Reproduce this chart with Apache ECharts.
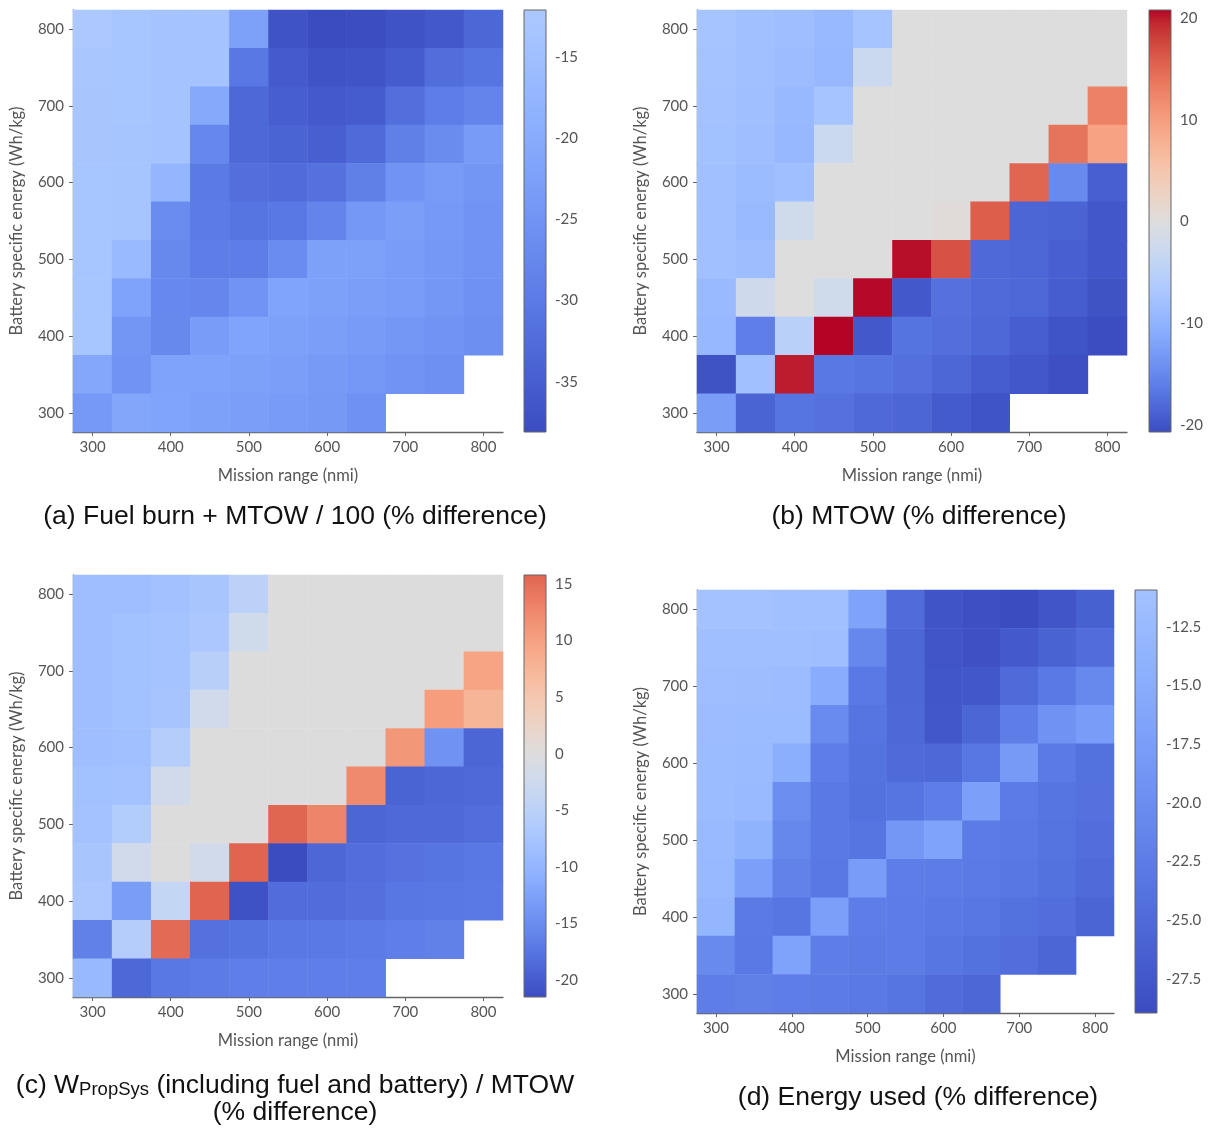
<!DOCTYPE html>
<html><head><meta charset="utf-8">
<script src="https://cdn.jsdelivr.net/npm/echarts@6/dist/echarts.min.js"></script>
<style>html,body{margin:0;padding:0;background:#fff}#c{width:1211px;height:1128px}</style>
</head><body><div id="c"></div>
<script>
// ---------------- DATA ----------------
const rangeCats = ['300','350','400','450','500','550','600','650','700','750','800'];   // Mission range (nmi)
const energyCats = ['300','350','400','450','500','550','600','650','700','750','800'];  // Battery specific energy (Wh/kg)

// Each row: one battery specific energy level, listed from 800 (top) down to 300 (bottom); columns = mission range 300..800
const fuelBurnRows = [
  [-12.2,-13.5,-13.8,-13.8,-22.5,-37.0,-38.1,-38.0,-37.0,-36.0,-33.5],
  [-13.0,-13.5,-13.8,-14.0,-30.5,-35.5,-37.0,-36.8,-35.3,-32.3,-31.0],
  [-13.2,-13.5,-13.8,-20.5,-33.3,-35.0,-35.8,-35.3,-32.0,-29.5,-28.2],
  [-13.2,-13.6,-14.0,-27.5,-33.3,-34.0,-34.8,-33.0,-29.0,-26.7,-23.5],
  [-13.3,-13.6,-17.5,-30.0,-32.0,-32.6,-31.6,-29.0,-25.3,-23.6,-24.6],
  [-13.3,-13.6,-26.6,-29.8,-31.0,-30.4,-28.2,-24.2,-23.0,-24.0,-25.0],
  [-13.3,-16.5,-27.3,-29.4,-29.4,-26.6,-22.5,-22.5,-23.3,-24.2,-25.3],
  [-13.4,-22.0,-27.4,-27.8,-25.0,-21.8,-22.4,-22.9,-23.4,-24.4,-25.5],
  [-13.5,-24.6,-27.3,-23.3,-21.8,-22.4,-22.9,-23.6,-24.4,-25.0,-26.0],
  [-21.0,-25.0,-22.0,-22.0,-22.4,-22.9,-23.7,-24.3,-25.3,-25.8,null],
  [-24.0,-21.3,-21.8,-22.4,-22.9,-23.6,-24.1,-25.5,null,null,null]
];
const mtowRows = [
  [-7.4,-8.0,-8.4,-9.1,-7.4,0,0,0,0,0,0],
  [-7.6,-8.1,-8.6,-9.2,-2.9,0,0,0,0,0,0],
  [-7.8,-8.3,-9.1,-7.4,0,0,0,0,0,0,12.8],
  [-7.9,-8.4,-9.2,-2.7,0,0,0,0,0,14.0,9.5],
  [-8.0,-8.7,-8.2,0,0,0,0,0,15.1,-14.8,-19.0],
  [-8.1,-8.9,-2.2,0,0,0,0.4,15.8,-18.4,-18.5,-19.7],
  [-8.1,-8.5,0,0,0,20.4,16.7,-18.0,-18.3,-19.0,-19.7],
  [-8.9,-2.3,0,-2.2,20.6,-19.6,-17.3,-17.9,-18.2,-19.2,-20.2],
  [-9.2,-16.0,-5.0,20.8,-19.6,-17.0,-17.5,-18.2,-19.1,-20.1,-20.7],
  [-20.2,-8.0,19.9,-16.6,-16.9,-17.4,-18.3,-19.2,-19.8,-20.5,null],
  [-12.6,-18.5,-16.9,-17.3,-18.0,-18.4,-19.4,-20.1,null,null,null]
];
const propSysRows = [
  [-8.6,-8.6,-8.1,-7.4,-5.0,0,0,0,0,0,0],
  [-8.6,-8.2,-7.9,-7.0,-2.2,0,0,0,0,0,0],
  [-8.6,-8.2,-7.8,-5.4,0,0,0,0,0,0,9.6],
  [-8.6,-8.2,-7.6,-2.0,0,0,0,0,0,10.4,7.5],
  [-8.6,-8.3,-6.0,0,0,0,0,0,11.0,-14.4,-19.0],
  [-8.2,-8.0,-2.0,0,0,0,0,12.4,-19.2,-18.9,-18.6],
  [-8.0,-6.2,0,0,0,15.6,12.9,-19.0,-18.7,-18.6,-18.2],
  [-7.5,-2.1,0,-2.1,15.8,-21.5,-18.9,-18.2,-17.8,-17.5,-17.2],
  [-7.0,-13.0,-3.9,15.8,-21.0,-18.3,-18.3,-18.0,-17.3,-17.1,-17.0],
  [-16.3,-6.0,15.2,-17.9,-17.6,-17.1,-17.0,-16.8,-16.5,-16.3,null],
  [-9.3,-18.8,-17.2,-16.8,-16.5,-16.5,-16.5,-16.5,null,null,null]
];
const energyRows = [
  [-10.95,-11.0,-11.2,-11.3,-16.6,-24.8,-27.9,-28.5,-28.95,-27.8,-26.3],
  [-11.5,-11.5,-11.6,-11.7,-21.0,-25.5,-27.7,-28.4,-27.2,-26.0,-24.6],
  [-11.7,-11.8,-12.0,-15.2,-23.0,-25.5,-27.6,-27.4,-25.0,-23.0,-20.7],
  [-12.0,-12.1,-12.2,-20.4,-23.6,-25.4,-27.4,-25.6,-22.4,-19.2,-17.9],
  [-12.1,-12.3,-14.9,-22.3,-23.9,-25.1,-25.4,-23.3,-18.2,-22.8,-24.0],
  [-12.2,-12.5,-19.9,-23.0,-24.0,-23.6,-22.3,-17.2,-22.7,-23.6,-24.1],
  [-12.4,-14.0,-21.0,-23.0,-23.6,-18.6,-16.8,-22.7,-23.0,-23.7,-24.5],
  [-12.8,-17.3,-21.7,-23.1,-17.9,-22.4,-22.5,-22.8,-23.3,-24.0,-25.0],
  [-13.4,-22.8,-23.4,-17.3,-22.3,-22.5,-23.0,-23.3,-24.0,-24.4,-25.7],
  [-20.5,-23.0,-16.8,-22.3,-22.6,-22.5,-23.4,-24.0,-24.5,-25.6,null],
  [-22.4,-22.0,-22.3,-22.6,-22.9,-23.6,-24.7,-25.5,null,null,null]
];

// Colour-bar limits [min, max] and the symmetric half-range of the colour norm
const fuelBurnLimits = [-38.1, -12.1];  const fuelBurnHalf = 38.1;
const mtowLimits     = [-20.7, 20.8];   const mtowHalf = 20.8;
const propSysLimits  = [-21.5, 15.8];   const propSysHalf = 21.5;
const energyLimits   = [-28.95, -10.93]; const energyHalf = 28.95;

// Colour-bar tick labels
const fuelBurnTicks = [-35,-30,-25,-20,-15];
const mtowTicks     = [-20,-10,0,10,20];
const propSysTicks  = [-20,-15,-10,-5,0,5,10,15];
const energyTicks   = [-27.5,-25,-22.5,-20,-17.5,-15,-12.5];

const xAxisTitle = 'Mission range (nmi)';
const yAxisTitle = 'Battery specific energy (Wh/kg)';

// ---------------- COLOURMAP (matplotlib coolwarm) ----------------
const COOLWARM = [[59,76,192],[68,90,204],[77,104,215],[87,117,225],[98,130,234],[108,142,241],[119,154,247],[130,165,251],[141,176,254],[152,185,255],[163,194,255],[174,201,253],[184,208,249],[194,213,244],[204,217,238],[213,219,230],[221,221,221],[229,216,209],[236,211,197],[241,204,184],[245,196,172],[247,187,159],[247,177,147],[247,166,134],[244,154,123],[241,141,111],[236,127,99],[229,112,88],[222,96,77],[213,80,66],[203,62,56],[192,40,47],[180,4,38]];
function cw(t){
  t = Math.max(0, Math.min(1, t));
  const f = t * 32; const i = Math.min(31, Math.floor(f)); const u = f - i;
  const a = COOLWARM[i], b = COOLWARM[i+1];
  return 'rgb(' + a.map((v,k)=>Math.round(v + (b[k]-v)*u)).join(',') + ')';
}

// ---------------- LAYOUT ----------------
const FONT = 'Lato';
const TXT = '#555';
const panels = [
  {rows: fuelBurnRows, lim: fuelBurnLimits, half: fuelBurnHalf, ticks: fuelBurnTicks, dec: 0,
   grid: {left:73, top:10, width:430, height:422}, cb: {left:524, top:10, width:22, height:422}},
  {rows: mtowRows, lim: mtowLimits, half: mtowHalf, ticks: mtowTicks, dec: 0,
   grid: {left:697, top:10, width:430, height:422}, cb: {left:1149, top:10, width:22, height:422}},
  {rows: propSysRows, lim: propSysLimits, half: propSysHalf, ticks: propSysTicks, dec: 0,
   grid: {left:73, top:575, width:430, height:422}, cb: {left:524, top:575, width:22, height:422}},
  {rows: energyRows, lim: energyLimits, half: energyHalf, ticks: energyTicks, dec: 1,
   grid: {left:697, top:590, width:417, height:423}, cb: {left:1135, top:590, width:22, height:423}}
];

const grid = [], xAxis = [], yAxis = [], series = [], visualMap = [];
panels.forEach((p, i) => {
  const lo = p.lim[0], hi = p.lim[1], half = p.half;
  const tOf = v => (v + half) / (2 * half);
  grid.push(Object.assign({containLabel:false}, p.grid));
  grid.push(Object.assign({containLabel:false}, p.cb));
  const axLine = {show:true, lineStyle:{color:'#666', width:1.3}};
  xAxis.push({type:'category', gridIndex:2*i, data: rangeCats, boundaryGap:true,
    axisLine: axLine, axisTick:{show:true, alignWithLabel:true, interval:1, length:4, lineStyle:{color:'#666'}},
    axisLabel:{interval:1, color:TXT, fontFamily:FONT, fontSize:15, margin:8},
    splitLine:{show:false},
    name: xAxisTitle, nameLocation:'middle', nameGap:35,
    nameTextStyle:{color:TXT, fontFamily:FONT, fontSize:16.5}});
  yAxis.push({type:'category', gridIndex:2*i, data: energyCats, boundaryGap:true,
    axisLine: axLine, axisTick:{show:true, alignWithLabel:true, interval:1, length:4, lineStyle:{color:'#666'}},
    axisLabel:{interval:1, color:TXT, fontFamily:FONT, fontSize:15, margin:9},
    splitLine:{show:false},
    name: yAxisTitle, nameLocation:'middle', nameGap:48,
    nameTextStyle:{color:TXT, fontFamily:FONT, fontSize:16.5}});
  // colour-bar axes
  xAxis.push({type:'value', gridIndex:2*i+1, min:0, max:1, show:false});
  yAxis.push({type:'value', gridIndex:2*i+1, min:lo, max:hi, position:'right',
    axisLine:{show:false}, splitLine:{show:false},
    axisTick:{show:true, customValues:p.ticks, length:4, lineStyle:{color:'#555'}},
    axisLabel:{customValues:p.ticks, color:TXT, fontFamily:FONT, fontSize:15, margin:9,
      formatter: v => Number(v).toFixed(p.dec)}});

  const data = [];
  p.rows.forEach((row, r) => {
    row.forEach((v, c) => { if (v !== null) data.push([c, p.rows.length - 1 - r, v]); });
  });
  series.push({type:'heatmap', xAxisIndex:2*i, yAxisIndex:2*i, data: data,
    itemStyle:{borderWidth:0}, emphasis:{disabled:true}, progressive:0, animation:false});
  series.push({type:'custom', xAxisIndex:2*i+1, yAxisIndex:2*i+1, data:[[0, lo]], silent:true, clip:false,
    animation:false,
    renderItem: (params, api) => {
      const p0 = api.coord([0, hi]), p1 = api.coord([1, lo]);
      const stops = [];
      for (let k = 0; k <= 60; k++) { const o = k/60; stops.push({offset:o, color: cw(tOf(hi - o*(hi-lo)))}); }
      return {type:'rect', shape:{x:p0[0], y:p0[1], width:p1[0]-p0[0], height:p1[1]-p0[1]},
        style:{fill: new echarts.graphic.LinearGradient(0,0,0,1,stops), stroke:'#666', lineWidth:1}};
    }});
  const cols = [];
  for (let k = 0; k <= 60; k++) cols.push(cw(tOf(lo + (hi-lo)*k/60)));
  visualMap.push({type:'continuous', show:false, seriesIndex:2*i, dimension:2, min:lo, max:hi,
    inRange:{color: cols}});
});

const CAPF = 'Liberation Sans, Arial, sans-serif';
const capFont = {fontFamily:CAPF, fontSize:26.5, fill:'#111'};
const graphic = [
  {type:'text', x:295, y:517, style:Object.assign({text:'(a) Fuel burn + MTOW / 100 (% difference)', textAlign:'center', textVerticalAlign:'middle'}, capFont)},
  {type:'text', x:919, y:517, style:Object.assign({text:'(b) MTOW (% difference)', textAlign:'center', textVerticalAlign:'middle'}, capFont)},
  {type:'text', x:295, y:1083, style:Object.assign({text:'{n|(c) W}{s|PropSys}{n| (including fuel and battery) / MTOW}', textAlign:'center', textVerticalAlign:'middle',
     rich:{n:{fontFamily:CAPF, fontSize:26.5, lineHeight:32, color:'#111', verticalAlign:'bottom'},
           s:{fontFamily:CAPF, fontSize:18.5, lineHeight:17, color:'#111', verticalAlign:'bottom'}}}, capFont)},
  {type:'text', x:295, y:1113, style:Object.assign({text:'(% difference)', textAlign:'center', textVerticalAlign:'middle'}, capFont)},
  {type:'text', x:918, y:1098, style:Object.assign({text:'(d) Energy used (% difference)', textAlign:'center', textVerticalAlign:'middle'}, capFont)}
];

const chart = echarts.init(document.getElementById('c'), null, {renderer:'canvas'});
chart.setOption({animation:false, backgroundColor:'#fff', grid, xAxis, yAxis, series, visualMap, graphic});
</script></body></html>
